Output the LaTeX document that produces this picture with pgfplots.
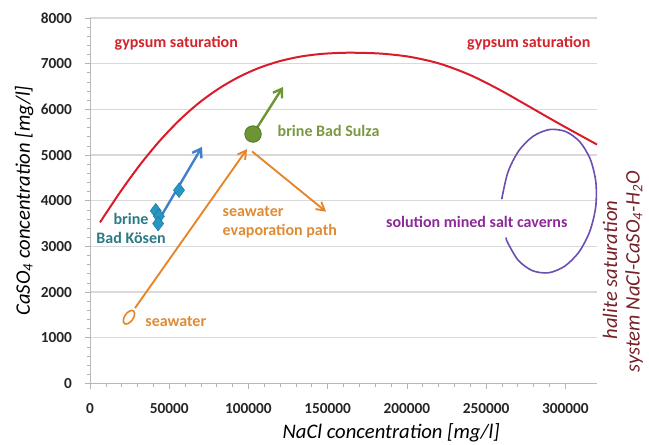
\documentclass[border=0pt]{standalone}
\usepackage{fontspec}
\setmainfont{Carlito}
\usepackage{pgfplots}
\pgfplotsset{compat=1.18}
\usetikzlibrary{arrows.meta}

\definecolor{gypsumred}{RGB}{218,28,42}
\definecolor{gypsumtxt}{RGB}{210,36,44}
\definecolor{kosenblue}{RGB}{66,128,204}
\definecolor{kosenmark}{RGB}{40,150,196}
\definecolor{kosentxt}{RGB}{44,122,134}
\definecolor{sulzagreen}{RGB}{108,150,52}
\definecolor{sulzatxt}{RGB}{122,152,66}
\definecolor{seaorange}{RGB}{232,132,40}
\definecolor{seatxt}{RGB}{222,140,52}
\definecolor{cavernline}{RGB}{108,78,178}
\definecolor{caverntxt}{RGB}{140,42,152}
\definecolor{halitered}{RGB}{118,32,40}

\begin{document}
\begin{tikzpicture}
\begin{axis}[
  scale only axis,
  width=380.25pt, height=274.1pt,
  xmin=0, xmax=320000, ymin=0, ymax=8000,
  clip=false,
  axis x line*=bottom, axis y line*=left,
  axis line style={gray!55, line width=0.6pt},
  xtick={0,50000,...,300000},
  ytick={0,1000,...,8000},
  minor x tick num=4, minor y tick num=4,
  tick align=outside,
  major tick length=4pt, minor tick length=2.5pt,
  tick style={gray!60, line width=0.5pt},
  ymajorgrids,
  major grid style={gray!30, line width=1pt},
  scaled x ticks=false, scaled y ticks=false,
  /pgf/number format/.cd, fixed, 1000 sep={}, assume math mode=true,
  /pgfplots/.cd,
  tick label style={font=\bfseries\fontsize{11.5}{13}\selectfont, text=black!85},
  xticklabel style={yshift=-7.5pt},
  yticklabel style={xshift=-6pt},
  xlabel={\textit{NaCl concentration [mg/l]}},
  ylabel={\textit{CaSO\textsubscript{4} concentration [mg/l]}},
  label style={font=\fontsize{15.5}{17}\selectfont, text=black},
  xlabel style={at={(axis description cs:0.594,-0.135)}, anchor=center},
  ylabel style={at={(axis description cs:-0.13,0.5)}, anchor=center, rotate=0},
]

% gypsum saturation curve
\addplot[gypsumred, line width=1.5pt, smooth] coordinates {
  (6313,3526) (18939,4184) (31565,4787) (44191,5318) (56817,5776)
  (69443,6160) (82069,6472) (94695,6722) (107321,6915) (119947,7057)
  (132573,7154) (145199,7211) (157825,7237) (164138,7241) (183077,7222)
  (202016,7149) (220955,6998) (239894,6752) (258833,6423) (277772,6050)
  (296711,5675) (320000,5230)
};

% solution mined salt caverns (open loop around the label)
\addplot[cavernline, line width=1.2pt, smooth] coordinates {
  (262526,3194) (263689,3078) (270319,2695) (279295,2469) (289495,2423)
  (299695,2569) (308773,2885) (315505,3336) (319177,3864) (319279,4407)
  (315811,4904) (309181,5288) (300307,5513) (290107,5559) (279805,5414)
  (270727,5098) (263995,4646) (260323,4118) (260119,4036)
};

% seawater evaporation path
\addplot[seaorange, line width=1.4pt, -{Straight Barb[length=6pt,width=7pt]}]
  coordinates {(28400,1650) (99100,5130)};
\addplot[seaorange, line width=1.4pt, -{Straight Barb[length=6pt,width=7pt]}]
  coordinates {(102300,5080) (149000,3760)};
\addplot[only marks, mark=*, mark size=5.8pt,
  mark options={draw=seaorange, fill=white, line width=1.2pt, rotate=-35, xscale=0.55}]
  coordinates {(24600,1450)};

% brine Bad Koesen
\addplot[kosenblue, line width=1.8pt, -{Straight Barb[length=6pt,width=8pt]}]
  coordinates {(43000,3550) (70700,5180)};
\addplot[only marks, mark=diamond*, mark size=5.5pt,
  mark options={fill=kosenmark, draw=kosenmark!80!black, line width=0.4pt}]
  coordinates {(41500,3780) (43500,3660) (43000,3500) (56200,4230)};

% brine Bad Sulza
\addplot[sulzagreen, line width=1.8pt, -{Straight Barb[length=6pt,width=8pt]}]
  coordinates {(102900,5460) (121800,6490)};
\addplot[only marks, mark=*, mark size=6.2pt,
  mark options={fill=sulzagreen, draw=sulzagreen!75!black, line width=0.6pt}]
  coordinates {(102900,5460)};

% annotations
\begin{scope}[font=\bfseries\fontsize{12}{14.5}\selectfont]
\node[gypsumtxt, anchor=west] at (axis cs:12600,7445) {gypsum saturation};
\node[gypsumtxt, anchor=east] at (axis cs:318800,7445) {gypsum saturation};
\node[sulzatxt, anchor=west] at (axis cs:115500,5537) {brine Bad Sulza};
\node[kosentxt, align=center] at (axis cs:25900,3400) {brine\\Bad Kösen};
\node[seatxt, align=left, anchor=west] at (axis cs:80800,3530) {seawater\\evaporation path};
\node[seatxt, anchor=west] at (axis cs:32000,1350) {seawater};
\node[caverntxt, anchor=east] at (axis cs:304300,3540) {solution mined salt caverns};
\end{scope}
\begin{scope}[font=\itshape\fontsize{15.5}{17}\selectfont, text=halitered]
\node[rotate=90] at (rel axis cs:1.0256,0.3105) {halite saturation};
\node[rotate=90] at (rel axis cs:1.073,0.305) {system NaCl-CaSO\textsubscript{4}-H\textsubscript{2}O};
\end{scope}
\end{axis}
\pgfresetboundingbox
\path[use as bounding box] (-67.5pt,-46.1pt) rectangle (419.25pt,287.6pt);
\end{tikzpicture}
\end{document}
